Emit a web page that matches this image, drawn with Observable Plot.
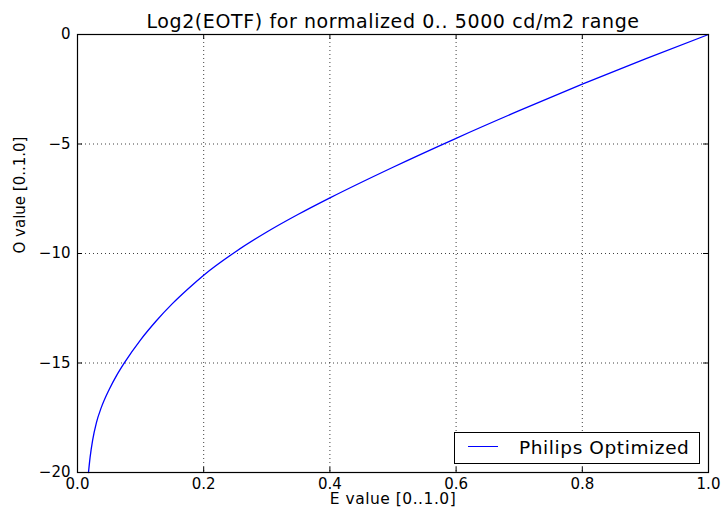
<!DOCTYPE html>
<html>
<head>
<meta charset="utf-8">
<script src="https://cdn.jsdelivr.net/npm/d3@7"></script>
<script src="https://cdn.jsdelivr.net/npm/@observablehq/plot@0.6"></script>
<style>
  body { margin: 0; background: #fff; }
  #wrap { position: relative; width: 723px; height: 508px; font-family: "DejaVu Sans", sans-serif; }
  #legend { position: absolute; left: 454px; top: 432px; width: 244px; height: 30px; border: 1px solid #000; background: #fff; }
  #legend .swatch { position: absolute; left: 13px; top: 13px; width: 30px; height: 0; border-top: 1.3px solid #0000ff; }
  #legend .label { position: absolute; left: 64px; top: 0; line-height: 30px; font-size: 18.5px; letter-spacing: 0.6px; color: #000; white-space: nowrap; }
</style>
</head>
<body>
<div id="wrap">
  <div id="chart"></div>
  <div id="legend"><div class="swatch"></div><div class="label" id="legendLabel"></div></div>
</div>
<script>
const title = "Log2(EOTF) for normalized 0.. 5000 cd/m2 range";
const xLabel = "E value [0..1.0]";
const yLabel = "O value [0..1.0]";
const seriesName = "Philips Optimized";

const eValues = [0.0174, 0.02, 0.024, 0.03, 0.0375, 0.05, 0.0625, 0.0745, 0.1, 0.125, 0.15, 0.175, 0.2, 0.25, 0.3, 0.35, 0.4, 0.5, 0.6, 0.7, 0.8, 0.9, 1.0];
const oValues = [-20, -19.3, -18.52, -17.72, -17.05, -16.22, -15.54, -14.98, -13.94, -13.07, -12.3, -11.62, -10.99, -9.93, -9.02, -8.21, -7.46, -6.06, -4.74, -3.48, -2.27, -1.11, 0];

const xTicks = [0, 0.2, 0.4, 0.6, 0.8, 1.0];
const yTicks = [-20, -15, -10, -5, 0];

const data = eValues.map((e, i) => ({e, o: oValues[i]}));

const W = 723, H = 508, mL = 77, mR = 15, mT = 34, mB = 36;
const plotW = W - mL - mR, plotH = H - mT - mB;
const tickLen = 5;
const fmtY = d => d < 0 ? "\u2212" + Math.abs(d) : String(d);

const chart = Plot.plot({
  width: W, height: H,
  marginLeft: mL, marginRight: mR, marginTop: mT, marginBottom: mB,
  style: { fontFamily: "DejaVu Sans", fontSize: "15px", background: "#fff", color: "#000" },
  x: { domain: [0, 1] },
  y: { domain: [-20, 0] },
  marks: [
    Plot.gridX(xTicks, { stroke: "#000", strokeOpacity: 0.75, strokeDasharray: "1,3" }),
    Plot.gridY(yTicks, { stroke: "#000", strokeOpacity: 0.75, strokeDasharray: "1,3" }),
    Plot.line(data, { x: "e", y: "o", stroke: "#0000ff", strokeWidth: 1.3, curve: "monotone-x" }),
    Plot.ruleX(xTicks, { stroke: "#000", insetTop: plotH - tickLen }),
    Plot.ruleX(xTicks, { stroke: "#000", insetBottom: plotH - tickLen }),
    Plot.ruleY(yTicks, { stroke: "#000", insetRight: plotW - tickLen }),
    Plot.ruleY(yTicks, { stroke: "#000", insetLeft: plotW - tickLen }),
    Plot.frame({ stroke: "#000", strokeWidth: 1.2 }),
    Plot.axisX({ ticks: xTicks, anchor: "bottom", tickSize: 0, tickPadding: 6, tickFormat: d => d.toFixed(1), fontSize: 15, label: null }),
    Plot.axisY({ ticks: yTicks, anchor: "left", tickSize: 0, tickPadding: 7, tickFormat: fmtY, fontSize: 15, label: null }),
    Plot.text([xLabel], { frameAnchor: "bottom", lineAnchor: "middle", dy: 27, fontSize: 15.5, fill: "#000" }),
    Plot.text([yLabel], { frameAnchor: "left", lineAnchor: "middle", dx: -57, rotate: -90, fontSize: 15, fill: "#000" }),
    Plot.text([title], { frameAnchor: "top", lineAnchor: "middle", dy: -13, fontSize: 19, fill: "#000" })
  ]
});
document.getElementById("chart").appendChild(chart);
d3.select(chart).selectAll("text")
  .filter(function() { return this.textContent === title; })
  .style("letter-spacing", "0.6px");
d3.select(chart).selectAll("text")
  .filter(function() { return this.textContent === xLabel; })
  .style("letter-spacing", "0.5px");
document.getElementById("legendLabel").textContent = seriesName;
</script>
</body>
</html>
